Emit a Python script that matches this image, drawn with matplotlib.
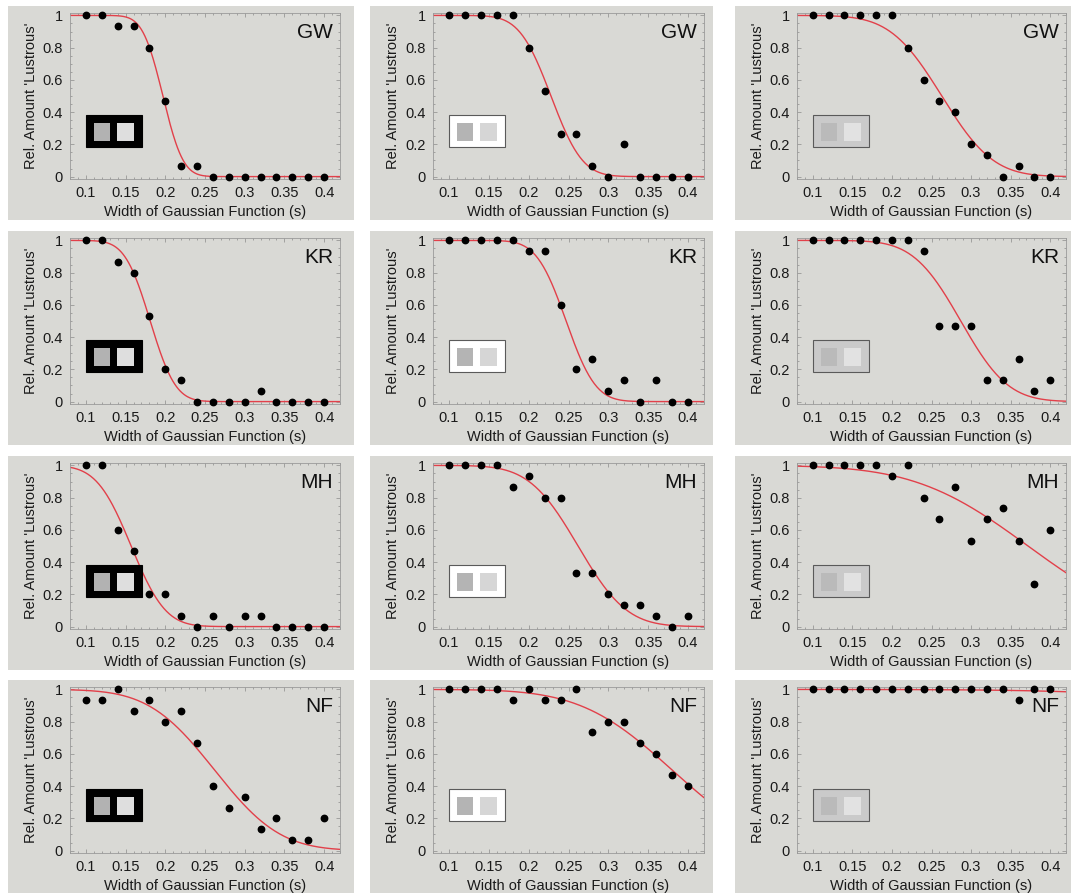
import math
import numpy as np
import matplotlib
matplotlib.use("Agg")
import matplotlib.pyplot as plt
from matplotlib.patches import Rectangle
from matplotlib.ticker import AutoMinorLocator

plt.rcParams['font.family'] = ['Liberation Sans', 'DejaVu Sans']

# stimulus widths (s)
widths = [0.10, 0.12, 0.14, 0.16, 0.18, 0.20, 0.22, 0.24,
          0.26, 0.28, 0.30, 0.32, 0.34, 0.36, 0.38, 0.40]

subjects = ['GW', 'KR', 'MH', 'NF']

# relative amount 'lustrous', one list per subject and condition (col 1..3)
gw_black = [1, 1, 0.933, 0.933, 0.8, 0.467, 0.067, 0.067, 0, 0, 0, 0, 0, 0, 0, 0]
gw_white = [1, 1, 1, 1, 1, 0.8, 0.533, 0.267, 0.267, 0.067, 0, 0.2, 0, 0, 0, 0]
gw_grey = [1, 1, 1, 1, 1, 1, 0.8, 0.6, 0.467, 0.4, 0.2, 0.133, 0, 0.067, 0, 0]

kr_black = [1, 1, 0.867, 0.8, 0.533, 0.2, 0.133, 0, 0, 0, 0, 0.067, 0, 0, 0, 0]
kr_white = [1, 1, 1, 1, 1, 0.933, 0.933, 0.6, 0.2, 0.267, 0.067, 0.133, 0, 0.133, 0, 0]
kr_grey = [1, 1, 1, 1, 1, 1, 1, 0.933, 0.467, 0.467, 0.467, 0.133, 0.133, 0.267, 0.067, 0.133]

mh_black = [1, 1, 0.6, 0.467, 0.2, 0.2, 0.067, 0, 0.067, 0, 0.067, 0.067, 0, 0, 0, 0]
mh_white = [1, 1, 1, 1, 0.867, 0.933, 0.8, 0.8, 0.333, 0.333, 0.2, 0.133, 0.133, 0.067, 0, 0.067]
mh_grey = [1, 1, 1, 1, 1, 0.933, 1, 0.8, 0.667, 0.867, 0.533, 0.667, 0.733, 0.533, 0.267, 0.6]

nf_black = [0.933, 0.933, 1, 0.867, 0.933, 0.8, 0.867, 0.667, 0.4, 0.267, 0.333, 0.133, 0.2, 0.067, 0.067, 0.2]
nf_white = [1, 1, 1, 1, 0.933, 1, 0.933, 0.933, 1, 0.733, 0.8, 0.8, 0.667, 0.6, 0.467, 0.4]
nf_grey = [1, 1, 1, 1, 1, 1, 1, 1, 1, 1, 1, 1, 1, 0.933, 1, 1]

data = [[gw_black, gw_white, gw_grey],
        [kr_black, kr_white, kr_grey],
        [mh_black, mh_white, mh_grey],
        [nf_black, nf_white, nf_grey]]

# fitted psychometric functions: (midpoint, spread)
fit_mu = [[0.197, 0.228, 0.263],
          [0.181, 0.247, 0.287],
          [0.157, 0.262, 0.372],
          [0.262, 0.380, 0.900]]
fit_sigma = [[0.020, 0.031, 0.051],
             [0.025, 0.029, 0.047],
             [0.034, 0.048, 0.112],
             [0.065, 0.090, 0.220]]

xticks = [0.1, 0.15, 0.2, 0.25, 0.3, 0.35, 0.4]
xticklabels = ['0.1', '0.15', '0.2', '0.25', '0.3', '0.35', '0.4']
yticks = [0, 0.2, 0.4, 0.6, 0.8, 1]
yticklabels = ['0', '0.2', '0.4', '0.6', '0.8', '1']

# surround icons: (frame, frame edge, left patch, right patch)
icons = [('#000000', '#000000', '#b2b2b2', '#dedede'),
         ('#ffffff', '#5a5a5a', '#b4b4b4', '#d6d6d6'),
         ('#cacaca', '#5a5a5a', '#bababa', '#e2e2e2')]

bg = '#d9d9d5'
W, H = 1071, 893
fig = plt.figure(figsize=(W / 100, H / 100), dpi=100)

panel_x = [(8, 354), (370, 713), (735, 1071)]
panel_y = [(6, 220), (231, 445), (456, 670), (680, 893)]
ax_x = [(70, 340), (433, 704), (797, 1066)]
ax_y = [(13, 179), (238, 404), (463, 629), (687, 853)]


def norm_fall(x, mu, s):
    return np.array([0.5 * math.erfc((v - mu) / (s * math.sqrt(2))) for v in x])


xs = np.linspace(0.08, 0.42, 300)

for r in range(4):
    for c in range(3):
        px0, px1 = panel_x[c]
        py0, py1 = panel_y[r]
        fig.patches.append(Rectangle((px0 / W, 1 - py1 / H), (px1 - px0) / W, (py1 - py0) / H,
                                     transform=fig.transFigure, facecolor=bg, edgecolor='none', zorder=-10))
        x0, x1 = ax_x[c]
        y0, y1 = ax_y[r]
        ax = fig.add_axes([x0 / W, 1 - y1 / H, (x1 - x0) / W, (y1 - y0) / H])
        ax.set_facecolor(bg)

        ax.plot(xs, norm_fall(xs, fit_mu[r][c], fit_sigma[r][c]), color='#e2404a', lw=1.0, zorder=2)
        ax.plot(widths, data[r][c], 'o', color='black', ms=4.6, zorder=3, clip_on=False)

        ax.set_xlim(0.08, 0.42)
        ax.set_ylim(-0.015, 1.015)
        ax.set_xticks(xticks)
        ax.set_xticklabels(xticklabels)
        ax.set_yticks(yticks)
        ax.set_yticklabels(yticklabels)
        ax.xaxis.set_minor_locator(AutoMinorLocator(5))
        ax.yaxis.set_minor_locator(AutoMinorLocator(4))
        ax.tick_params(which='both', direction='in', top=True, right=True,
                       color='#8a8a8a', width=0.5, labelsize=10.5, labelcolor='#1a1a1a')
        ax.tick_params(which='major', length=3, pad=5)
        ax.tick_params(which='minor', length=1.5)
        for sp in ax.spines.values():
            sp.set_color('#9a9a9a')
            sp.set_linewidth(0.6)

        ax.set_xlabel('Width of Gaussian Function (s)', fontsize=10.5, color='#1a1a1a')
        ax.set_ylabel("Rel. Amount 'Lustrous'", fontsize=10.5, color='#1a1a1a')
        ax.xaxis.set_label_coords(0.5, -0.158)
        ax.yaxis.set_label_coords(-0.12, 0.5)

        ax.text(0.975, 0.94, subjects[r], transform=ax.transAxes, ha='right', va='top',
                fontsize=15, color='#111111')

        frame, edge, left, right = icons[c]
        ax.add_patch(Rectangle((0.059, 0.193), 0.208, 0.193, transform=ax.transAxes,
                               facecolor=frame, edgecolor=edge, lw=0.8, zorder=4))
        ax.add_patch(Rectangle((0.089, 0.229), 0.06, 0.108, transform=ax.transAxes,
                               facecolor=left, edgecolor='none', zorder=5))
        ax.add_patch(Rectangle((0.174, 0.229), 0.063, 0.108, transform=ax.transAxes,
                               facecolor=right, edgecolor='none', zorder=5))

fig.savefig('out.png', dpi=100, facecolor='white')
